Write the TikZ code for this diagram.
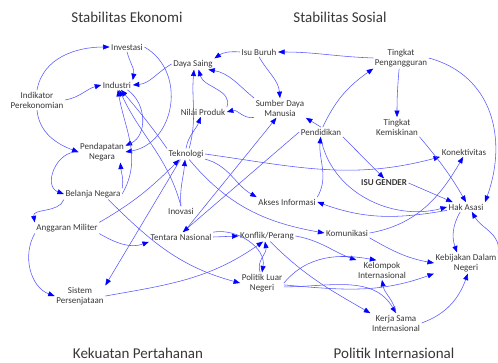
\documentclass[tikz,border=0pt]{standalone}
\usepackage{fontspec}
\setmainfont{Carlito}
\usetikzlibrary{arrows.meta}
\definecolor{linkblue}{RGB}{85,85,255}
\definecolor{txtgray}{RGB}{55,55,55}
\begin{document}
\begin{tikzpicture}[x=1pt,y=1pt,
    var/.style={text=txtgray,font=\fontsize{9}{10}\selectfont,align=center,inner sep=1.5pt},
    sector/.style={text=txtgray,font=\fontsize{15}{18}\selectfont},
    link/.style={draw=linkblue,line width=0.55pt,-{Triangle[length=6.5pt,width=5pt,color=blue]}}]
\useasboundingbox (0,0) rectangle (498,362);

\node[sector] (eko) at (127,345) {Stabilitas Ekonomi};
\node[sector] (sos) at (340,345) {Stabilitas Sosial};
\node[sector] (han) at (138,9) {Kekuatan Pertahanan};
\node[sector] (pol) at (394,9) {Politik Internasional};

\node[var] (inv) at (127,315) {Investasi};
\node[var] (ind) at (117,277) {Industri};
\node[var] (ikp) at (37,262) {Indikator\\Perekonomian};
\node[var] (dys) at (193,298) {Daya Saing};
\node[var] (isb) at (259,310) {Isu Buruh};
\node[var] (tpg) at (401,304) {Tingkat\\Pengangguran};
\node[var] (nlp) at (203,250) {Nilai Produk};
\node[var] (sdm) at (280,254) {Sumber Daya\\Manusia};
\node[var] (pdd) at (321,230) {Pendidikan};
\node[var] (tkm) at (397,235) {Tingkat\\Kemiskinan};
\node[var] (knk) at (464,210) {Konektivitas};
\node[var,font=\fontsize{9}{10}\selectfont\bfseries] (isg) at (384,179) {ISU GENDER};
\node[var] (has) at (466,155) {Hak Asasi};
\node[var] (aki) at (287,160) {Akses Informasi};
\node[var] (kom) at (347,129) {Komunikasi};
\node[var] (tek) at (186,208) {Teknologi};
\node[var] (pdn) at (102,210) {Pendapatan\\Negara};
\node[var] (bln) at (93,168) {Belanja Negara};
\node[var] (ino) at (181,151) {Inovasi};
\node[var] (agm) at (67,134) {Anggaran Militer};
\node[var] (ttn) at (181,125) {Tentara Nasional};
\node[var] (kfp) at (267,126) {Konflik/Perang};
\node[var] (plq) at (262,79) {Politik Luar\\Negeri};
\node[var] (klp) at (382,92) {Kelompok\\Internasional};
\node[var] (kdn) at (466,99) {Kebijakan Dalam\\Negeri};
\node[var] (ksi) at (396,39) {Kerja Sama\\Internasional};
\node[var] (ssp) at (80,66) {Sistem\\Persenjataan};

\draw[link] (ikp.north) to[out=80,in=180] (inv.west);
\draw[link] (ikp.east) to[out=10,in=195] (ind.west);
\draw[link] (ikp.south) to[out=-85,in=160] (pdn.west);
\draw[link] (inv.south) to[out=-75,in=80] (ind.north east);
\draw[link] (inv.east) to[out=-30,in=10,looseness=1.2] (pdn.east);
\draw[link] (ind.-25) to[out=-35,in=25,looseness=1.1] (pdn.15);
\draw[link] (dys.west) to[out=-150,in=5] (ind.east);
\draw[link] (tek.north west) to[out=125,in=-50] (ind.-50);
\draw[link] (ino.north) to[out=105,in=-65] (ind.-65);
\draw[link] (bln.east) to[out=60,in=-80] (ind.-80);
\draw[link] (bln.north east) to[out=80,in=-85] (pdn.-30);
\draw[link] (pdn.west) to[out=175,in=160,looseness=1.3] (bln.west);
\draw[link] (bln.south west) to[out=-110,in=100] (agm.north west);
\draw[link] (agm.south west) to[out=-120,in=160] (ssp.west);
\draw[link] (agm.north east) to[out=30,in=-135] (tek.-140);
\draw[link] (agm.south east) to[out=-30,in=200] (ttn.south west);
\draw[link] (tek.-135) -- (ssp.north east);
\draw[link] (ino.north) to[out=95,in=-95] (tek.-100);
\draw[link] (tek.north) to[out=80,in=-110] (nlp.-115);
\draw[link] (tek.60) to[out=75,in=-95] (dys.-80);
\draw[link] (tek.east) to[out=-8,in=195] (knk.south west);
\draw[link] (tek.-15) to[out=-15,in=150] (aki.north west);
\draw[link] (tek.-60) to[out=-50,in=170] (kom.west);
\draw[link] (isb.west) to[out=175,in=35] (dys.north east);
\draw[link] (sdm.north west) to[out=140,in=-10] (dys.-20);
\draw[link] (nlp.north east) to[out=70,in=-75] (dys.-45);
\draw[link] (isb.south) to[out=-60,in=95] (sdm.north);
\draw[link] (tpg.west) to[out=178,in=0] (isb.east);
\draw[link] (sdm.-160) to[out=-170,in=15] (nlp.east);
\draw[link] (pdd.north) -- (sdm.south east);
\draw[link] (pdd.70) to[out=65,in=215] (tpg.south west);
\draw[link] (tpg.-100) to[out=-95,in=90] (tkm.north);
\draw[link] (tpg.east) to[out=-15,in=70,looseness=1.1] (has.north east);
\draw[link] (tkm.south east) to[out=-50,in=120] (has.north);
\draw[link] (pdd.south east) -- (isg.north);
\draw[link] (pdd.-95) to[out=-80,in=195] (has.west);
\draw[link] (has.-170) to[out=-170,in=-20] (aki.east);
\draw[link] (isg.east) -- (has.160);
\draw[link] (aki.north east) to[out=60,in=-95] (pdd.-95);
\draw[link] (kom.east) to[out=10,in=-120] (knk.-100);
\draw[link] (ttn.east) -- (kfp.west);
\draw[link] (ttn.north east) to[out=10,in=80] (plq.north);
\draw[link] (plq.100) to[out=110,in=-80] (kfp.-110);
\draw[link] (ssp.east) to[out=10,in=-145] (kfp.-125);
\draw[link] (bln.-20) to[out=-45,in=165] (plq.west);
\draw[link] (kfp.east) to[out=-10,in=160] (klp.north west);
\draw[link] (plq.east) to[out=50,in=170] (klp.120);
\draw[link] (kfp.-60) to[out=-45,in=150] (ksi.north west);
\draw[link] (plq.-10) to[out=0,in=120] (ksi.north);
\draw[link] (plq.-5) to[out=-5,in=200] (kdn.south west);
\draw[link] (ksi.north) to[out=100,in=-80] (klp.south);
\draw[link] (ksi.east) to[out=20,in=-110] (kdn.-80);
\draw[link] (kom.south east) to[out=-30,in=170] (kdn.west);
\draw[link] (has.-140) to[out=-120,in=110] (kdn.130);
\draw[link] (kdn.north east) to[out=80,in=-60] (has.-40);
\draw[link] (ttn.60) -- (sdm.-110);
\draw[link] (pdd.west) -- (ttn.70);
\end{tikzpicture}
\end{document}
